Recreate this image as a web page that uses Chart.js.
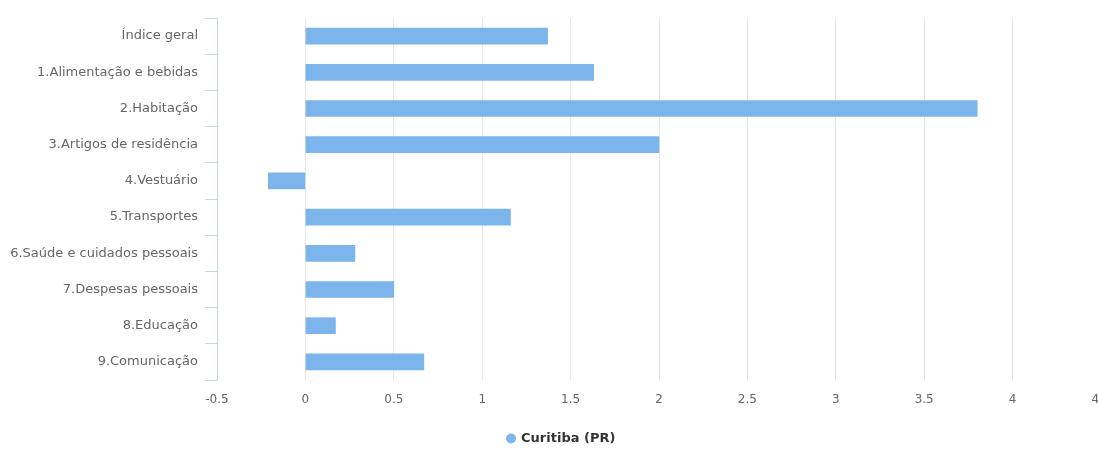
<!DOCTYPE html>
<html>
<head>
<meta charset="utf-8">
<script src="https://cdn.jsdelivr.net/npm/chart.js@4/dist/chart.umd.min.js"></script>
<style>
  html, body { margin: 0; padding: 0; background: #ffffff; overflow: hidden; }
  #wrap { position: relative; width: 1101px; height: 450px; }
</style>
</head>
<body>
<div id="wrap"><canvas id="chart"></canvas></div>
<script>
// IPCA por grupo — Curitiba (PR), variação (%)
const categories = [
  'Índice geral',
  '1.Alimentação e bebidas',
  '2.Habitação',
  '3.Artigos de residência',
  '4.Vestuário',
  '5.Transportes',
  '6.Saúde e cuidados pessoais',
  '7.Despesas pessoais',
  '8.Educação',
  '9.Comunicação'
];
const seriesName = 'Curitiba (PR)';
const curitibaValues = [1.37, 1.63, 3.80, 2.00, -0.21, 1.16, 0.28, 0.50, 0.17, 0.67];
const xTicks = [-0.5, 0, 0.5, 1, 1.5, 2, 2.5, 3, 3.5, 4, 4.5];

const barColor = '#7cb5ec';
const labelFont = 'DejaVu Sans';

// nudges the bottom legend a little right and down
const legendShift = {
  id: 'legendShift',
  afterLayout(chart) {
    const lg = chart.legend;
    if (lg) {
      lg.left += 11; lg.right += 11;
      lg.top += 5; lg.bottom += 5;
    }
  }
};

new Chart(document.getElementById('chart'), {
  type: 'bar',
  data: {
    labels: categories,
    datasets: [{
      label: seriesName,
      data: curitibaValues,
      backgroundColor: barColor,
      borderWidth: 0,
      barThickness: 16
    }]
  },
  plugins: [legendShift],
  options: {
    indexAxis: 'y',
    responsive: true,
    maintainAspectRatio: false,
    animation: false,
    layout: {
      autoPadding: false,
      padding: { top: 18, left: 0, right: 0, bottom: 0 }
    },
    scales: {
      x: {
        type: 'linear',
        min: xTicks[0],
        max: xTicks[xTicks.length - 1],
        afterBuildTicks: s => { s.ticks = xTicks.map(v => ({ value: v })); },
        afterFit: s => { s.height = 46; s.paddingLeft = 0; s.paddingRight = 0; },
        grid: { color: '#e6e6e6', lineWidth: 1, drawTicks: false },
        border: { display: false },
        ticks: {
          padding: 13,
          color: '#666666',
          font: { family: labelFont, size: 12 },
          maxRotation: 0,
          callback: v => String(v)
        }
      },
      y: {
        afterFit: s => { s.width = 217; },
        grid: {
          drawOnChartArea: false,
          drawTicks: true,
          tickLength: 12,
          tickColor: '#ccd6eb',
          offset: true
        },
        border: { display: true, color: '#ccd6eb', width: 1 },
        ticks: {
          padding: 7,
          color: '#666666',
          font: { family: labelFont, size: 13 }
        }
      }
    },
    plugins: {
      legend: {
        position: 'bottom',
        labels: {
          usePointStyle: true,
          pointStyle: 'circle',
          boxWidth: 7,
          boxHeight: 7,
          padding: 1,
          color: '#333333',
          font: { family: labelFont, size: 13, weight: 'bold' }
        }
      },
      tooltip: { enabled: false }
    }
  }
});
</script>
</body>
</html>
